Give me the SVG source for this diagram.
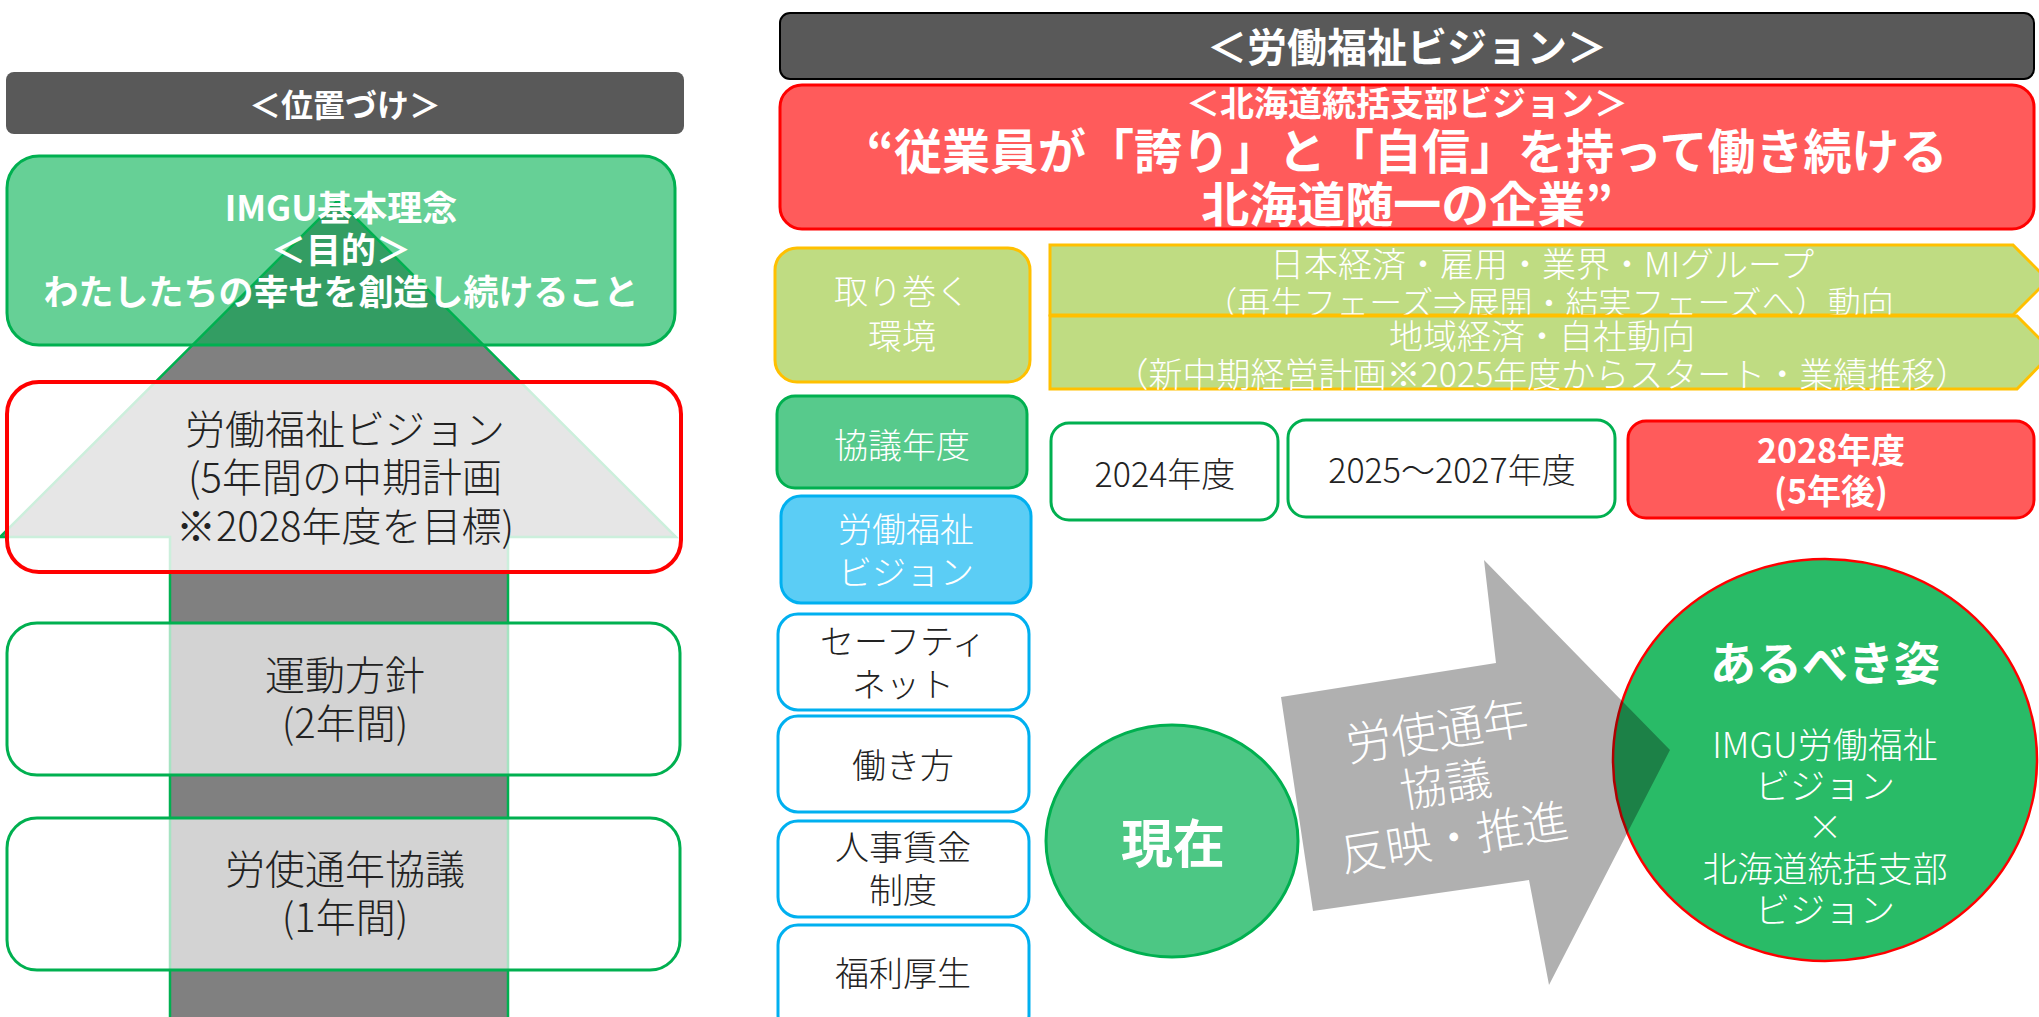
<svg xmlns="http://www.w3.org/2000/svg" width="2039" height="1017" viewBox="0 0 2039 1017">
<style>
text{font-family:"Noto Sans CJK JP","Noto Sans",sans-serif;text-anchor:middle;dominant-baseline:central;font-weight:300}
.w{fill:#fff}
.k{fill:#222}
.b{font-weight:bold}
.hdr{fill:#595959}
.gbox{fill:#fff;fill-opacity:0.65;stroke:#00B050;stroke-width:3}
.cyan{fill:#fff;stroke:#00B0F0;stroke-width:3}
.olive{fill:#BFDC82;stroke:#FFC000;stroke-width:3}
.yr{fill:#fff;stroke:#00B050;stroke-width:3}
.red{fill:#FF5B5B;stroke:#FF0000;stroke-width:3}
.f40{font-size:40px}
.f34{font-size:34px}
</style>

<!-- LEFT PANEL -->
<g id="left-header">
<rect class="hdr" x="6" y="72" width="678" height="62" rx="8"/>
<text class="w b" x="345" y="103" font-size="32">＜位置づけ＞</text>
</g>

<g id="hierarchy-arrow">
<polygon points="338,200 676,537 508,537 508,1030 170,1030 170,537 0,537" fill="#808080" stroke="#00B050" stroke-width="2.5"/>
</g>

<g id="node-imgu">
<rect x="7" y="156" width="668" height="189" rx="32" fill="#00B050" fill-opacity="0.6" stroke="#00B050" stroke-width="3"/>
<text class="w b" x="341" y="205" font-size="35">IMGU基本理念</text>
<text class="w b" x="341" y="247" font-size="35">＜目的＞</text>
<text class="w b" x="341" y="289" font-size="35">わたしたちの幸せを創造し続けること</text>
</g>

<g id="node-vision">
<rect x="7" y="382" width="674" height="190" rx="32" fill="#fff" fill-opacity="0.8" stroke="#FF0000" stroke-width="4"/>
<text class="k f40" x="345" y="427">労働福祉ビジョン</text>
<text class="k f40" x="345" y="475">(5年間の中期計画</text>
<text class="k f40" x="345" y="524">※2028年度を目標)</text>
</g>

<g id="node-policy">
<rect class="gbox" x="7" y="623" width="673" height="152" rx="30"/>
<text class="k f40" x="345" y="673">運動方針</text>
<text class="k f40" x="345" y="721">(2年間)</text>
</g>

<g id="node-annual">
<rect class="gbox" x="7" y="818" width="673" height="152" rx="30"/>
<text class="k f40" x="345" y="867">労使通年協議</text>
<text class="k f40" x="345" y="915">(1年間)</text>
</g>

<!-- RIGHT PANEL -->
<g id="right-header">
<rect class="hdr" x="780" y="13" width="1254" height="66" rx="10" stroke="#000" stroke-width="2"/>
<text class="w b" x="1407" y="45" font-size="40">＜労働福祉ビジョン＞</text>
</g>

<g id="node-hokkaido-vision">
<rect class="red" x="780" y="85" width="1254" height="144" rx="22"/>
<text class="w b" x="1407" y="101" font-size="34">＜北海道統括支部ビジョン＞</text>
<text class="w b" x="1407" y="148" font-size="48">“従業員が「誇り」と「自信」を持って働き続ける</text>
<text class="w b" x="1407" y="201" font-size="48">北海道随一の企業”</text>
</g>

<g id="label-environment">
<rect class="olive" x="775" y="248" width="255" height="134" rx="22"/>
<text class="w f34" x="902" y="289">取り巻く</text>
<text class="w f34" x="902" y="334">環境</text>
</g>

<g id="env-arrow-1">
<polygon class="olive" points="1050,245 2013,245 2048,280 2013,315 1050,315"/>
<text class="w f34" x="1542" y="262">日本経済・雇用・業界・MIグループ</text>
<text class="w" x="1549" y="301" font-size="33">（再生フェーズ⇒展開・結実フェーズへ）動向</text>
</g>

<g id="env-arrow-2">
<polygon class="olive" points="1050,316 2017,316 2053,352 2017,389 1050,389"/>
<text class="w f34" x="1542" y="334">地域経済・自社動向</text>
<text class="w f34" x="1542" y="372">（新中期経営計画※2025年度からスタート・業績推移）</text>
</g>

<g id="label-year">
<rect x="777" y="396" width="250" height="92" rx="18" fill="#57CA8C" stroke="#00B050" stroke-width="3"/>
<text class="w f34" x="902" y="443">協議年度</text>
</g>

<g id="year-2024">
<rect class="yr" x="1051" y="423" width="227" height="97" rx="18"/>
<text class="k f34" x="1165" y="472">2024年度</text>
</g>

<g id="year-2025-2027">
<rect class="yr" x="1288" y="420" width="327" height="97" rx="18"/>
<text class="k f34" x="1452" y="468">2025～2027年度</text>
</g>

<g id="year-2028">
<rect class="red" x="1628" y="421" width="406" height="97" rx="18"/>
<text class="w b f34" x="1831" y="448">2028年度</text>
<text class="w b f34" x="1831" y="489">(5年後)</text>
</g>

<g id="label-vision">
<rect x="781" y="496" width="250" height="107" rx="20" fill="#5BCDF5" stroke="#00B0F0" stroke-width="3"/>
<text class="w f34" x="906" y="527">労働福祉</text>
<text class="w f34" x="906" y="570">ビジョン</text>
</g>

<g id="item-safety">
<rect class="cyan" x="778" y="614" width="251" height="96" rx="20"/>
<text class="k f34" x="903" y="639">セーフティ</text>
<text class="k f34" x="903" y="682">ネット</text>
</g>

<g id="item-workstyle">
<rect class="cyan" x="778" y="716" width="251" height="96" rx="20"/>
<text class="k f34" x="903" y="763">働き方</text>
</g>

<g id="item-hr">
<rect class="cyan" x="778" y="821" width="251" height="96" rx="20"/>
<text class="k f34" x="903" y="845">人事賃金</text>
<text class="k f34" x="903" y="888">制度</text>
</g>

<g id="item-welfare">
<rect class="cyan" x="778" y="925" width="251" height="110" rx="20"/>
<text class="k f34" x="903" y="971">福利厚生</text>
</g>

<g id="node-ideal">
<ellipse cx="1825" cy="760" rx="212" ry="201" fill="#29BB67" stroke="#FF0000" stroke-width="2.5"/>
<text class="w b" x="1825" y="660" font-size="46">あるべき姿</text>
<text class="w" x="1825" y="742" font-size="35">IMGU労働福祉</text>
<text class="w" x="1825" y="783" font-size="35">ビジョン</text>
<text class="w" x="1825" y="824" font-size="35">×</text>
<text class="w" x="1825" y="866" font-size="35">北海道統括支部</text>
<text class="w" x="1825" y="907" font-size="35">ビジョン</text>
</g>

<g id="connectors">
<polygon points="1281,697 1496,663 1484,560 1670,750 1549,985 1529,880 1313,911" fill="#000" fill-opacity="0.31"/>
<g transform="rotate(-9 1445 781)">
<text class="w" x="1445" y="727" font-size="46">労使通年</text>
<text class="w" x="1445" y="781" font-size="46">協議</text>
<text class="w" x="1445" y="835" font-size="46">反映・推進</text>
</g>
</g>

<g id="node-current">
<ellipse cx="1172" cy="841" rx="126" ry="116" fill="#4CC784" stroke="#00B050" stroke-width="3"/>
<text class="w b" x="1173" y="840" font-size="52">現在</text>
</g>
</svg>
